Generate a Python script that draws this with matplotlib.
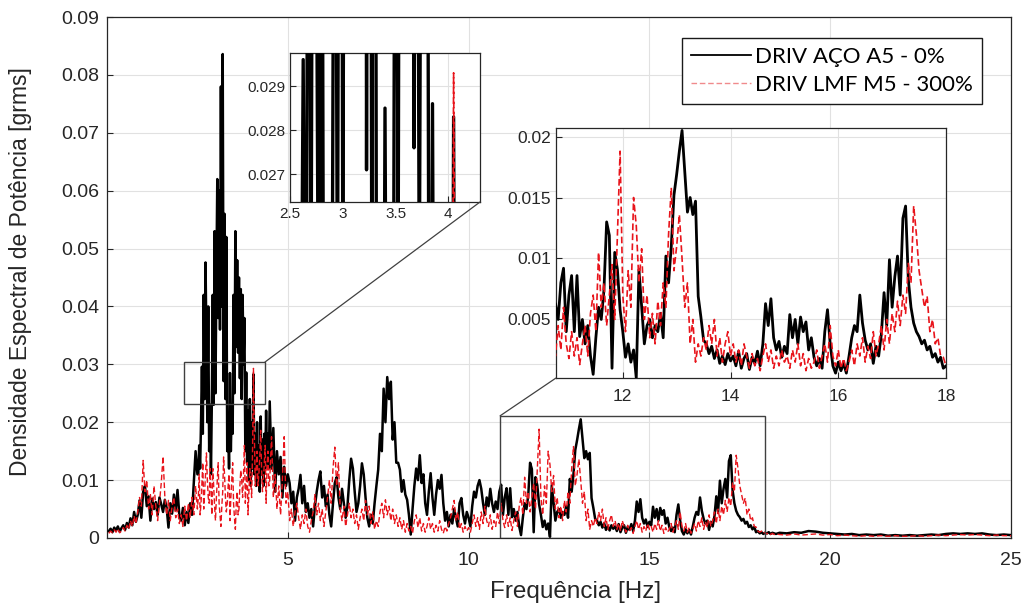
import numpy as np
import matplotlib
matplotlib.use('Agg')
import matplotlib.pyplot as plt
from matplotlib.patches import Rectangle, ConnectionPatch
from matplotlib.lines import Line2D
from matplotlib.ticker import FuncFormatter

plt.rcParams['font.family'] = ['Liberation Sans', 'DejaVu Sans']

# ---------------------------------------------------------------- data
# PSD values in units of 1e-4 grms
# low band: 0.05 .. 2.50 Hz, 0.05 Hz bins
aco_low = [12, 16, 10, 18, 13, 20, 11, 17, 22, 14, 26, 18, 34, 22, 45, 28, 40, 65, 35, 80,
           90, 55, 72, 30, 68, 50, 62, 40, 70, 58, 45, 66, 52, 18, 60, 42, 75, 48, 83, 40,
           30, 52, 22, 45, 26, 60, 40, 95, 150, 110]
lmf_low = [8, 12, 9, 14, 10, 16, 9, 12, 18, 12, 22, 15, 30, 20, 38, 25, 45, 70, 55, 134,
           80, 100, 50, 75, 40, 90, 55, 30, 60, 95, 141, 70, 40, 65, 30, 55, 70, 35, 50, 25,
           40, 20, 55, 30, 60, 35, 70, 40, 90, 50]
# peak band: 2.525 .. 4.500 Hz, 0.025 Hz bins
aco_peak = [110, 160, 120, 200, 296, 180, 420, 240, 476, 330,
            200, 400, 150, 230, 110, 240, 420, 230, 530, 250,
            450, 620, 380, 600, 360, 780, 400, 836, 271, 560,
            240, 520, 150, 200, 120, 285, 150, 230, 180, 420,
            250, 530, 330, 480, 320, 450, 276, 430, 240, 420,
            300, 380, 150, 286, 130, 220, 100, 240, 90, 200,
            120, 283, 110, 180, 90, 200, 100, 160, 80, 210,
            110, 170, 90, 180, 120, 220, 130, 180, 120, 236]
lmf_peak = [70, 110, 40, 60, 95, 130, 50, 80, 110, 147,
            100, 70, 60, 120, 85, 40, 120, 90, 55, 30,
            70, 100, 130, 60, 40, 20, 55, 80, 140, 110,
            70, 45, 60, 90, 110, 30, 70, 100, 130, 60,
            35, 15, 60, 80, 40, 50, 90, 117, 100, 70,
            110, 160, 60, 90, 130, 40, 80, 120, 100, 70,
            150, 293, 180, 90, 120, 150, 90, 110, 140, 186,
            120, 80, 100, 130, 160, 60, 120, 150, 90, 100]
# mid band: 4.55 .. 18.50 Hz, 0.05 Hz bins, one row per Hz from 5.05 Hz
aco_mid = [
    [120, 190, 80, 150, 110, 140, 70, 123, 90, 110],
    [95, 60, 80, 30, 70, 85, 109, 60, 90, 45, 60, 35, 50, 20, 55, 80, 100, 115, 70, 90],
    [55, 75, 40, 20, 60, 95, 105, 70, 50, 85, 60, 35, 55, 100, 137, 120, 80, 45, 60, 90],
    [129, 110, 70, 35, 20, 40, 25, 60, 90, 118, 180, 150, 258, 200, 278, 240, 270, 170, 200, 130],
    [130, 118, 80, 100, 75, 66, 40, 6, 50, 90, 120, 100, 143, 95, 110, 60, 40, 80, 112, 70],
    [40, 75, 100, 85, 109, 60, 30, 45, 20, 40, 25, 50, 35, 20, 60, 69, 40, 25, 45, 35],
    [20, 55, 80, 70, 90, 100, 85, 60, 40, 70, 55, 85, 60, 45, 63, 50, 80, 92, 40, 70],
    [86, 40, 86, 36, 50, 30, 45, 20, 5, 35, 60, 50, 74, 130, 119, 10, 105, 91, 58, 40],
    [19, 30, 15, 25, 2, 91, 60, 30, 45, 50, 35, 45, 40, 55, 35, 102, 80, 110, 152, 169],
    [188, 205, 172, 138, 150, 136, 147, 69, 52, 33, 30, 22, 28, 18, 25, 14, 20, 13, 22, 16],
    [20, 12, 24, 10, 18, 22, 9, 19, 14, 24, 12, 30, 63, 45, 67, 35, 25, 32, 19, 28],
    [22, 54, 35, 50, 30, 52, 40, 48, 25, 35, 19, 12, 18, 10, 40, 58, 30, 12, 6, 15],
    [8, 14, 6, 20, 35, 45, 40, 70, 47, 33, 25, 30, 14, 28, 20, 38, 72, 45, 99, 60],
    [85, 102, 70, 133, 143, 83, 60, 47, 40, 36, 30, 33, 25, 28, 19, 22, 15, 19, 10, 12],
    [8, 10, 7, 9, 8, 10, 7, 9, 8, 7],
]
lmf_mid = [
    [175, 70, 110, 50, 90, 40, 100, 175, 60, 80],
    [30, 50, 20, 45, 60, 35, 15, 40, 25, 50, 20, 10, 30, 45, 75, 40, 60, 30, 50, 20],
    [45, 70, 100, 60, 120, 157, 90, 130, 50, 30, 55, 20, 40, 60, 35, 50, 25, 40, 15, 35],
    [50, 30, 65, 40, 55, 25, 45, 15, 30, 20, 45, 60, 35, 66, 40, 55, 30, 50, 25, 40],
    [20, 35, 15, 30, 10, 25, 12, 20, 8, 30, 40, 18, 35, 12, 25, 10, 20, 35, 15, 25],
    [10, 22, 12, 30, 15, 8, 20, 12, 25, 35, 50, 65, 30, 45, 15, 25, 10, 20, 12, 18],
    [10, 25, 40, 20, 35, 15, 45, 25, 55, 30, 20, 40, 15, 30, 20, 45, 25, 60, 30, 18],
    [40, 20, 35, 13, 30, 45, 20, 55, 70, 40, 105, 60, 80, 45, 70, 95, 50, 120, 188, 70],
    [40, 90, 60, 150, 127, 80, 108, 50, 70, 35, 55, 30, 65, 45, 80, 60, 120, 158, 90, 110],
    [136, 100, 60, 80, 30, 50, 15, 30, 20, 35, 25, 45, 30, 50, 20, 35, 15, 30, 40, 20],
    [30, 15, 25, 12, 30, 20, 10, 22, 12, 18, 8, 20, 30, 15, 25, 10, 20, 12, 25, 15],
    [20, 10, 25, 15, 30, 12, 22, 8, 18, 10, 15, 25, 10, 20, 30, 15, 45, 20, 12, 25],
    [10, 18, 8, 15, 25, 12, 30, 20, 35, 15, 28, 18, 40, 20, 30, 45, 25, 50, 30, 55],
    [40, 65, 45, 70, 55, 96, 80, 143, 120, 90, 75, 60, 69, 40, 50, 30, 35, 20, 19, 12],
    [10, 12, 8, 10, 7, 9, 6, 8, 6, 7],
]
# tail: 18.6 .. 25.0 Hz, 0.2 Hz bins
aco_tail = [9, 8, 10, 9, 12, 11, 9, 8, 7, 6, 7, 5, 6, 5, 6, 4, 5, 4, 5, 4, 5, 6, 5, 7, 8, 7, 8, 7, 8, 6, 5, 6, 5]
lmf_tail = [6, 5, 7, 5, 6, 7, 5, 6, 4, 5, 4, 3, 4, 3, 4, 3, 4, 3, 3, 4, 3, 4, 5, 4, 5, 6, 5, 6, 5, 4, 5, 4, 4]

# band grids: (start Hz, step Hz)
low_grid = (0.05, 0.05)
peak_grid = (2.525, 0.025)
mid_grid = (4.55, 0.05)
tail_grid = (18.6, 0.2)

labels = ['DRIV AÇO A5 - 0%', 'DRIV LMF M5 - 300%']
x_label = 'Frequência [Hz]'
y_label = 'Densidade Espectral de Potência [grms]'

# ---------------------------------------------------------------- build series
def band(vals, grid):
    v = np.asarray(vals, float)
    return grid[0] + grid[1] * np.arange(len(v)), v

def build(low, peak, mid_rows, tail):
    parts = [band(low, low_grid), band(peak, peak_grid),
             band(np.concatenate([np.asarray(r, float) for r in mid_rows]), mid_grid),
             band(tail, tail_grid)]
    f = np.concatenate([p[0] for p in parts])
    v = np.concatenate([p[1] for p in parts]) * 1e-4
    return f, v

f_aco, aco = build(aco_low, aco_peak, aco_mid, aco_tail)
f_lmf, lmf = build(lmf_low, lmf_peak, lmf_mid, lmf_tail)

# ---------------------------------------------------------------- figure
W, H = 1029, 603
fig = plt.figure(figsize=(W / 100, H / 100), dpi=100)

def fbox(l, t, r, b):
    return [l / W, 1 - b / H, (r - l) / W, (b - t) / H]

AX_COL = '#262626'
GRID_COL = '#e1e1e1'
BLACK = '#000000'
RED = '#e8141b'

def style(ax, fs, xpad=3.5, ypad=3.5):
    for s in ax.spines.values():
        s.set_color(AX_COL)
        s.set_linewidth(0.9)
    ax.tick_params(direction='in', length=4, width=0.8, colors=AX_COL,
                   labelsize=fs, labelcolor=AX_COL, top=False, right=False)
    ax.tick_params(axis='x', pad=xpad)
    ax.tick_params(axis='y', pad=ypad)
    ax.grid(True, color=GRID_COL, linewidth=0.8)
    ax.set_axisbelow(True)

ax = fig.add_axes(fbox(107, 17, 1011, 538))
ax.plot(f_aco, aco, color=BLACK, lw=1.8, zorder=3)
ax.plot(f_lmf, lmf, color=RED, lw=1.0, ls=(0, (4, 2)), zorder=4)
ax.set_xlim(0, 25)
ax.set_ylim(0, 0.09)
ax.set_xticks([5, 10, 15, 20, 25])
ax.set_yticks(np.arange(0, 0.0901, 0.01))
ax.yaxis.set_major_formatter(FuncFormatter(lambda v, p: '0' if abs(v) < 1e-9 else f'{v:.2f}'))
style(ax, 14, xpad=10, ypad=5.5)
ax.set_xlabel(x_label, fontsize=17.5, color=AX_COL)
ax.set_ylabel(y_label, fontsize=16.5, color=AX_COL)
ax.xaxis.set_label_coords((576 - 107) / 904, -0.083)
ax.yaxis.set_label_coords(-0.083, 0.5 + (277 - 271) / 521)

# zoom rectangles
r1 = (2.13, 0.0231, 4.37, 0.0304)
r2 = (10.87, 0.0, 18.2, 0.0211)
for (x0, y0, x1, y1) in (r1, r2):
    ax.add_patch(Rectangle((x0, y0), x1 - x0, y1 - y0, fill=False,
                           edgecolor='#404040', lw=1.0, zorder=6))

# inset 1
ax1 = fig.add_axes(fbox(290, 53, 480, 202))
ax1.plot(f_aco, aco, color=BLACK, lw=2.4, zorder=3)
ax1.plot(f_lmf, lmf, color=RED, lw=1.2, ls=(0, (4, 2)), zorder=4)
ax1.set_xlim(2.52, 4.3)
ax1.set_ylim(0.02637, 0.02975)
ax1.set_xticks([2.5, 3, 3.5, 4])
ax1.set_yticks([0.027, 0.028, 0.029])
ax1.xaxis.set_major_formatter(FuncFormatter(lambda v, p: f'{v:g}'))
ax1.yaxis.set_major_formatter(FuncFormatter(lambda v, p: f'{v:.3f}'))
style(ax1, 11)

# inset 2
ax2 = fig.add_axes(fbox(556, 128, 946, 378))
ax2.plot(f_aco, aco, color=BLACK, lw=2.0, zorder=3)
ax2.plot(f_lmf, lmf, color=RED, lw=1.2, ls=(0, (4, 2)), zorder=4)
ax2.set_xlim(10.76, 18.0)
ax2.set_ylim(0.0002, 0.0207)
ax2.set_xticks([12, 14, 16, 18])
ax2.set_yticks([0.005, 0.01, 0.015, 0.02])
ax2.yaxis.set_major_formatter(FuncFormatter(lambda v, p: f'{v:g}'))
style(ax2, 12.5, xpad=8)

# connectors
fig.add_artist(ConnectionPatch(xyA=(r1[2], r1[3]), coordsA=ax.transData,
                               xyB=(1, 0), coordsB=ax1.transAxes,
                               color='#404040', lw=0.9))
fig.add_artist(ConnectionPatch(xyA=(r2[0], r2[3]), coordsA=ax.transData,
                               xyB=(0, 0), coordsB=ax2.transAxes,
                               color='#404040', lw=0.9))

# legend
handles = [Line2D([], [], color=BLACK, lw=1.3),
           Line2D([], [], color='#f08a8c', lw=1.0, ls=(0, (4, 2)))]
leg = ax.legend(handles, labels, loc='upper right',
                bbox_to_anchor=(982 / W, 1 - 38 / H), bbox_transform=fig.transFigure,
                borderaxespad=0, fancybox=False, framealpha=1, edgecolor='#1a1a1a',
                prop={'family': 'Lato', 'size': 16}, handlelength=2.7,
                handletextpad=0.2, borderpad=0.4, labelspacing=0.35)
leg.get_frame().set_linewidth(1.0)
leg.set_zorder(10)

fig.savefig('out.png', dpi=100)
